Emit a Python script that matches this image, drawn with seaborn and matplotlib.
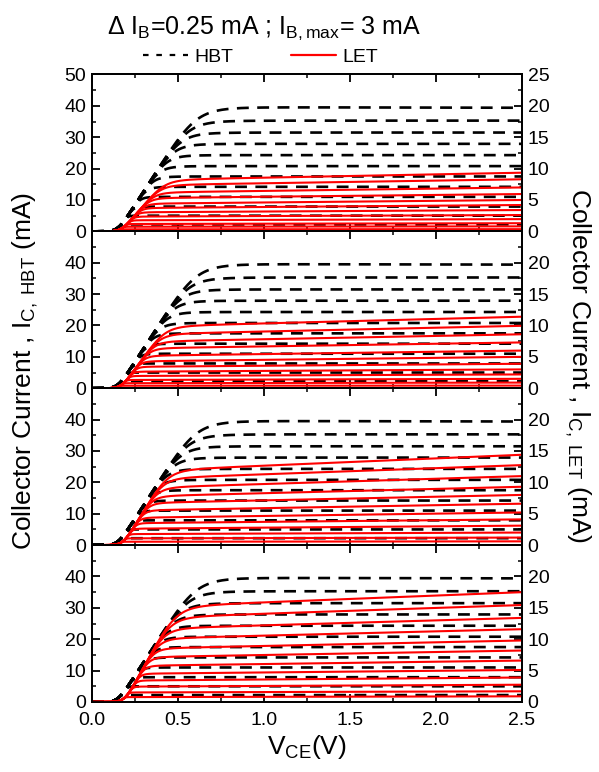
import numpy as np
import pandas as pd
import matplotlib
matplotlib.use('Agg')
import matplotlib.pyplot as plt
from matplotlib.lines import Line2D
from matplotlib.ticker import MultipleLocator, FormatStrFormatter
import seaborn as sns

# base current steps (mA): 0.25 ... 3 mA
ib_steps = [0.25, 0.5, 0.75, 1.0, 1.25, 1.5, 1.75, 2.0, 2.25, 2.5, 2.75, 3.0]

# HBT saturation currents (mA), same in every panel
hbt_knee = [2.2, 5.0, 7.9, 11.0, 14.2, 17.5, 20.8, 24.3, 27.9, 31.5, 35.3, 39.6]
hbt_end = [2.2, 5.0, 7.9, 11.0, 14.2, 17.5, 20.8, 24.3, 27.9, 31.5, 35.3, 39.4]
hbt_v0 = 0.15      # turn-on voltage (V)
hbt_slope = 85.0   # slope of the saturation-region envelope (mA/V)

# LET currents (mA): level after the knee and at 2.5 V
let_knee = [
    [0.33, 0.75, 1.2, 1.8, 2.4, 3.1, 3.8, 4.5, 5.4, 6.3, 7.5, 8.35],
    [0.4, 0.82, 1.35, 2.0, 2.7, 3.5, 4.4, 5.3, 6.5, 7.6, 8.8, 10.05],
    [0.55, 1.1, 1.8, 2.7, 3.6, 4.5, 5.7, 6.9, 8.0, 9.4, 10.9, 12.2],
    [0.8, 1.55, 2.5, 3.5, 4.6, 5.9, 7.3, 8.7, 10.3, 11.9, 13.7, 15.45],
]
let_end = [
    [0.35, 0.8, 1.3, 1.95, 2.6, 3.4, 4.2, 5.0, 5.95, 7.0, 8.3, 9.35],
    [0.42, 0.9, 1.5, 2.2, 3.0, 3.9, 5.0, 6.0, 7.3, 8.6, 9.95, 11.4],
    [0.6, 1.2, 2.0, 3.1, 4.1, 5.2, 6.6, 8.0, 9.3, 11.0, 12.75, 14.4],
    [0.9, 1.7, 2.75, 3.9, 5.1, 6.6, 8.2, 9.8, 11.6, 13.4, 15.45, 17.5],
]
let_v0 = [0.17, 0.17, 0.18, 0.19]
let_slope = [32.0, 38.0, 45.0, 50.0]

vce = np.linspace(0, 2.5, 500)


def ic_curve(v, knee, end, v0, slope, n=6, w=0.02):
    # soft minimum of the common turn-on ramp and the (slightly sloped) plateau
    ramp = slope * w * np.logaddexp(0, (v - v0) / w)
    ramp = np.maximum(ramp, 1e-9)
    plateau = knee + (end - knee) * (v - 0.6) / 1.9
    return (ramp ** -n + plateau ** -n) ** (-1.0 / n)


def make_frame(knees, ends, v0, slope, n):
    rows = []
    for k, (a, b) in enumerate(zip(knees, ends)):
        rows.append(pd.DataFrame({'V': vce, 'I': ic_curve(vce, a, b, v0, slope, n), 'curve': k}))
    return pd.concat(rows, ignore_index=True)


sns.set_theme(style='ticks')
plt.rcParams['font.family'] = ['Liberation Sans', 'DejaVu Sans']
plt.rcParams['mathtext.fontset'] = 'custom'
plt.rcParams['mathtext.rm'] = 'Liberation Sans'
plt.rcParams['mathtext.it'] = 'Liberation Sans'
plt.rcParams['text.color'] = 'black'
plt.rcParams['axes.labelcolor'] = 'black'
plt.rcParams['xtick.color'] = 'black'
plt.rcParams['ytick.color'] = 'black'
plt.rcParams['axes.edgecolor'] = 'black'
plt.rcParams['axes.linewidth'] = 1.3

fig, axes = plt.subplots(4, 1, figsize=(5.99, 7.72), dpi=100, sharex=True)
fig.subplots_adjust(left=0.1536, right=0.8715, top=0.9035, bottom=0.0907, hspace=0)

hbt_df = make_frame(hbt_knee, hbt_end, hbt_v0, hbt_slope, 7)

for p, ax in enumerate(axes):
    sns.lineplot(data=hbt_df, x='V', y='I', units='curve', estimator=None, sort=False,
                 color='black', lw=1.9, linestyle=(0, (4.5, 3.2)), legend=False, ax=ax)
    ax2 = ax.twinx()
    let_df = make_frame(let_knee[p], let_end[p], let_v0[p], let_slope[p], 6)
    sns.lineplot(data=let_df, x='V', y='I', units='curve', estimator=None, sort=False,
                 color='#ff0000', lw=1.5, legend=False, ax=ax2)

    ax.set_xlim(0, 2.5)
    ax.set_ylim(0, 50)
    ax2.set_ylim(0, 25)
    top_left = [0, 10, 20, 30, 40, 50] if p == 0 else [0, 10, 20, 30, 40]
    top_right = [0, 5, 10, 15, 20, 25] if p == 0 else [0, 5, 10, 15, 20]
    ax.set_yticks(top_left)
    ax2.set_yticks(top_right)
    ax.yaxis.set_minor_locator(MultipleLocator(5))
    ax2.yaxis.set_minor_locator(MultipleLocator(2.5))
    ax.xaxis.set_major_locator(MultipleLocator(0.5))
    ax.xaxis.set_minor_locator(MultipleLocator(0.25))
    ax.xaxis.set_major_formatter(FormatStrFormatter('%.1f'))

    ax.tick_params(axis='both', which='both', direction='in', top=True, right=False,
                   labelsize=14, pad=4)
    ax.tick_params(axis='x', pad=7)
    ax.tick_params(which='major', length=5.5, width=1.3)
    ax.tick_params(which='minor', length=3, width=1.1)
    ax2.tick_params(axis='y', which='both', direction='in', labelsize=14, pad=4)
    ax2.tick_params(which='major', length=5.5, width=1.3)
    ax2.tick_params(which='minor', length=3, width=1.1)
    ax.set_xlabel('')
    ax.set_ylabel('')
    ax2.set_ylabel('')
    for s in ax2.spines.values():
        s.set_linewidth(1.3)

axes[-1].set_xlabel(r'V$_{\mathregular{CE}}$(V)', fontsize=19, labelpad=3)

fig.text(0.042, 0.52, r'Collector Current , I$_{\mathregular{C,\ HBT}}$ (mA)',
         rotation=90, ha='center', va='center', fontsize=19)
fig.text(0.965, 0.527, r'Collector Current , I$_{\mathregular{C,\ LET}}$ (mA)',
         rotation=270, ha='center', va='center', fontsize=19)

fig.text(0.44, 0.963, r'$\Delta$ I$_{\mathregular{B}}$=0.25 mA ; I$_{\mathregular{B,max}}$= 3 mA',
         ha='center', va='center', fontsize=18)

handles = [Line2D([], [], color='black', lw=1.6, linestyle=(0, (2.5, 3.5))),
           Line2D([], [], color='#ff0000', lw=1.6)]
fig.legend(handles, ['HBT', 'LET'], loc='center', bbox_to_anchor=(0.435, 0.926), ncol=2,
           frameon=False, fontsize=14, handlelength=2.3, handletextpad=0.3, columnspacing=3.0)

fig.savefig('out.png', dpi=100)
